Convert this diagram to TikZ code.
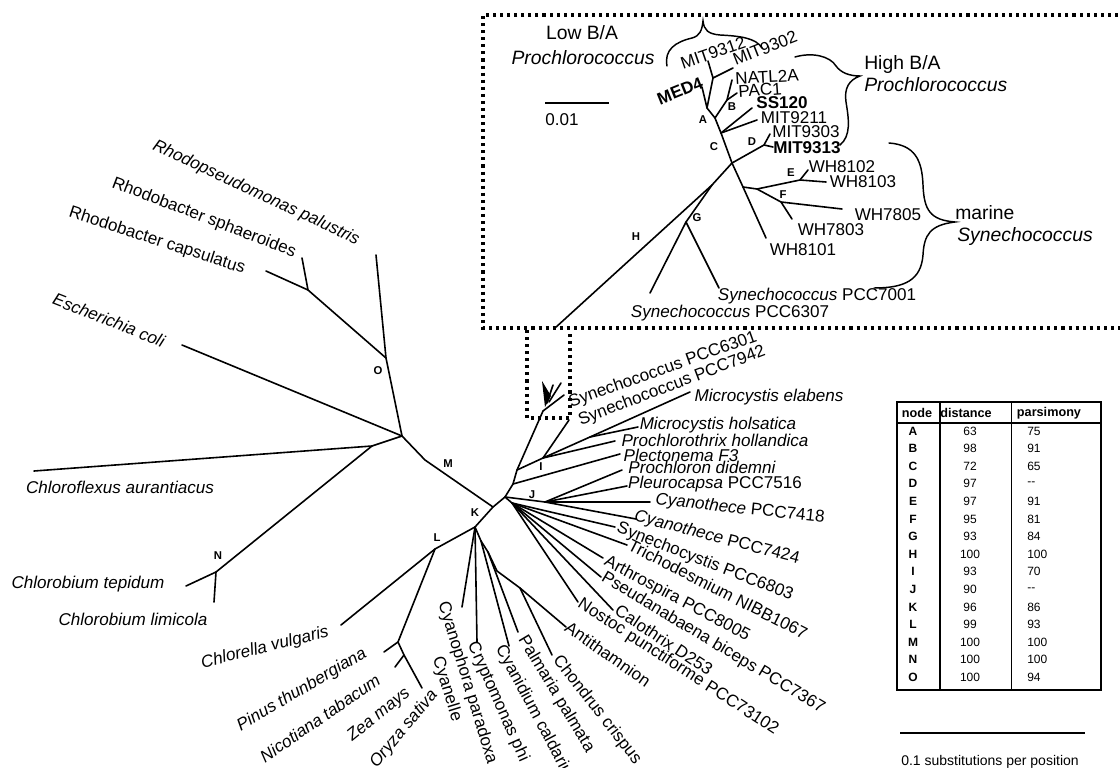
\documentclass[tikz,border=0pt]{standalone}
\usepackage{fontspec}
\setmainfont{Liberation Sans}

\tikzstyle{treefig}=[x=0.75pt,y=-0.75pt]
\tikzstyle{brline}=[line width=1.2pt,line cap=round,line join=round]
\tikzstyle{taxon}=[inner sep=0pt,font=\fontsize{12.8}{16}\selectfont]
\tikzstyle{taxonit}=[inner sep=0pt,font=\fontsize{12.8}{16}\selectfont\itshape]
\tikzstyle{taxonbf}=[inner sep=0pt,font=\fontsize{12.8}{16}\selectfont\bfseries]
\tikzstyle{grouplabel}=[inner sep=0pt,font=\fontsize{14.5}{17}\selectfont]
\tikzstyle{nodeletter}=[inner sep=0pt,font=\fontsize{8.5}{9}\selectfont\bfseries]
\tikzstyle{dotframe}=[line width=2.3pt,dash pattern=on 2.3pt off 3pt]
\tikzstyle{bracket}=[line width=1.1pt,line cap=round]
\tikzstyle{tabtext}=[inner sep=0pt,font=\fontsize{9}{10}\selectfont]
\tikzstyle{tabhead}=[inner sep=0pt,font=\fontsize{9.5}{10}\selectfont\bfseries]

\begin{document}
\begin{tikzpicture}[style=treefig]
\useasboundingbox (0,0) rectangle (1120,767);

% outgroups
\coordinate (root) at (402,436);
\coordinate (O) at (386,358);
\coordinate (rhps) at (376,255);
\coordinate (rbac) at (308,290);
\coordinate (rbsp) at (302,258);
\coordinate (rbca) at (266,271);
\coordinate (ecol) at (182,345);
\coordinate (cfj) at (372,446);
\coordinate (cfla) at (34,471);
\coordinate (N) at (216,572);
\coordinate (cbte) at (186,586);
\coordinate (cbli) at (214,602);
\coordinate (Mb) at (425,460);
\coordinate (Mj) at (493,507);
\coordinate (P) at (505,497);

\draw[brline] (rhps) -- (O) -- (root);
\draw[brline] (rbsp) -- (rbac) -- (O);
\draw[brline] (rbca) -- (rbac);
\draw[brline] (ecol) -- (root);
\draw[brline] (cfla) -- (cfj) -- (root);
\draw[brline] (cfj) -- (N) -- (cbte);
\draw[brline] (N) -- (cbli);
\draw[brline] (root) -- (Mb) -- (Mj) -- (P);

% plastids
\coordinate (K) at (475,527);
\coordinate (L) at (435,549);
\coordinate (chlo) at (341,625);
\coordinate (pl) at (398,642);
\coordinate (pinu) at (384,652);
\coordinate (an) at (404,655);
\coordinate (nico) at (395,667);
\coordinate (oryz) at (422,688);
\coordinate (cyan) at (462,607);
\coordinate (cryp) at (477,642);
\coordinate (K2) at (481,541);
\coordinate (cyad) at (509,646);
\coordinate (K3) at (488,552);
\coordinate (palm) at (518,632);
\coordinate (K4) at (497,571);
\coordinate (K5) at (520,588);
\coordinate (anti) at (566,627);
\coordinate (chon) at (552,655);

\draw[brline] (Mj) -- (K) -- (L) -- (chlo);
\draw[brline] (L) -- (pl) -- (pinu);
\draw[brline] (pl) -- (an) -- (nico);
\draw[brline] (an) -- (oryz);
\draw[brline] (K) -- (cyan);
\draw[brline] (K) -- (cryp);
\draw[brline] (K) -- (K2) -- (cyad);
\draw[brline] (K2) -- (K3) -- (palm);
\draw[brline] (K3) -- (K4) -- (K5) -- (anti);
\draw[brline] (K5) -- (chon);

% cyanobacteria
\coordinate (fan) at (543,411);
\coordinate (Ib) at (513,484);
\coordinate (T1) at (517,470);
\coordinate (plec) at (620,454);
\coordinate (R) at (543,458);
\coordinate (pthx) at (615,441);
\coordinate (s6301) at (569,420);
\coordinate (mcj) at (590,437);
\coordinate (mcel) at (690,392);
\coordinate (mcho) at (638,427);
\coordinate (J) at (545,502);
\coordinate (pdid) at (622,470);
\coordinate (pleu) at (627,486);
\coordinate (c7418) at (650,502);
\coordinate (c7424) at (636,519);
\coordinate (P2) at (512,503);
\coordinate (scys) at (615,527);
\coordinate (tric) at (627,545);
\coordinate (arth) at (603,558);
\coordinate (pseu) at (601,577);
\coordinate (calo) at (613,610);
\coordinate (nost) at (578,602);

\draw[brline] (P) -- (Ib) -- (T1) -- (fan);
\draw[brline] (Ib) -- (plec);
\draw[brline] (T1) -- (R) -- (mcj) -- (mcel);
\draw[brline] (R) -- (pthx);
\draw[brline] (R) -- (s6301);
\draw[brline] (mcj) -- (mcho);
\draw[brline] (P) -- (J) -- (pdid);
\draw[brline] (J) -- (pleu);
\draw[brline] (J) -- (c7418);
\draw[brline] (J) -- (c7424);
\draw[brline] (P) -- (P2);
\foreach \tip in {scys,tric,arth,pseu,calo,nost}
  \draw[brline] (P2) -- (\tip);

% miniature of the inset
\fill (542,381) -- (551,396) -- (545,407) -- cycle;
\draw[brline] (553,385) -- (547,403);
\draw[brline] (561,383) -- (549,402);
\draw[brline] (564,395) -- (fan);

% inset tree
\coordinate (iA) at (707,108);
\coordinate (ilow) at (713,78);
\coordinate (m9312) at (708,61);
\coordinate (m9302) at (733,68);
\coordinate (med4) at (702,87);
\coordinate (iB0) at (715,118);
\coordinate (iB) at (727,100);
\coordinate (natl) at (732,80);
\coordinate (pac1) at (737,93);
\coordinate (iS) at (721,133);
\coordinate (ss120) at (752,108);
\coordinate (m9211) at (757,120);
\coordinate (itop) at (732,163);
\coordinate (iD) at (764,145);
\coordinate (m9303) at (770,134);
\coordinate (m9313) at (773,147);
\coordinate (iM) at (743,187);
\coordinate (iEF) at (757,189);
\coordinate (iE) at (800,180);
\coordinate (wh8102) at (808,170);
\coordinate (wh8103) at (826,182);
\coordinate (iF) at (781,202);
\coordinate (wh7805) at (842,209);
\coordinate (wh7803) at (792,219);
\coordinate (wh8101) at (766,238);
\coordinate (iG0) at (712,185);
\coordinate (iG) at (686,222);
\coordinate (s6307) at (650,293);
\coordinate (s7001) at (719,288);
\coordinate (iH) at (555,328);

\draw[brline] (m9312) -- (ilow) -- (m9302);
\draw[brline] (ilow) -- (iA) -- (med4);
\draw[brline] (iA) -- (iB0) -- (iS) -- (itop);
\draw[brline] (iB0) -- (iB) -- (natl);
\draw[brline] (iB) -- (pac1);
\draw[brline] (iS) -- (ss120);
\draw[brline] (iS) -- (m9211);
\draw[brline] (itop) -- (iD) -- (m9303);
\draw[brline] (iD) -- (m9313);
\draw[brline] (itop) -- (iM) -- (wh8101);
\draw[brline] (iM) -- (iEF) -- (iE) -- (wh8102);
\draw[brline] (iE) -- (wh8103);
\draw[brline] (iEF) -- (iF) -- (wh7805);
\draw[brline] (iF) -- (wh7803);
\draw[brline] (itop) -- (iG0) -- (iH);
\draw[brline] (iG0) -- (iG) -- (s6307);
\draw[brline] (iG) -- (s7001);

% frames
\draw[dotframe] (1125,15) -- (483,15) -- (483,328) -- (1125,328);
\draw[dotframe] (527,330) -- (527,418) -- (570,418) -- (570,330);

% braces
\draw[bracket] (667,66) .. controls (664,50) and (675,42) .. (692,38)
  .. controls (700,36) and (702,30) .. (703,21)
  .. controls (704,30) and (708,34) .. (720,35)
  .. controls (740,36) and (756,38) .. (762,48);
\draw[bracket] (795,57) .. controls (812,52) and (830,56) .. (836,66)
  .. controls (841,73) and (850,76) .. (860,76)
  .. controls (849,80) and (844,88) .. (846,102)
  .. controls (849,120) and (851,136) .. (840,145);
\draw[bracket] (889,143) .. controls (915,145) and (922,160) .. (923,185)
  .. controls (924,210) and (930,220) .. (955,222)
  .. controls (930,225) and (924,235) .. (923,255)
  .. controls (921,280) and (905,288) .. (874,288);

% group labels
\node[grouplabel] (lowba) at (582,33) {Low B/A};
\node[grouplabel,font=\fontsize{14.5}{17}\selectfont\itshape] (lowpro) at (583,58) {Prochlorococcus};
\node[grouplabel,anchor=west] (highba) at (864,65) {High B/A};
\node[grouplabel,anchor=west,font=\fontsize{14.5}{17}\selectfont\itshape] (highpro) at (864,85) {Prochlorococcus};
\node[grouplabel,anchor=west] (marine) at (955,213) {marine};
\node[grouplabel,anchor=west,font=\fontsize{14.5}{17}\selectfont\itshape] (marsyn) at (957,236) {Synechococcus};

% inset scale
\coordinate (sa) at (545,103);
\coordinate (sb) at (609,103);
\draw[line width=1pt] (sa) -- (sb);
\node[taxon] (sval) at (562,120) {0.01};

% inset labels
\node[taxonbf,rotate=22] (lmed4) at (680,91) {MED4};
\node[taxon,rotate=19] (lm9312) at (713,53) {MIT9312};
\node[taxon,rotate=21.5] (lm9302) at (765,48) {MIT9302};
\node[taxon,rotate=3] (lnatl) at (767,77) {NATL2A};
\node[taxon,rotate=4] (lpac1) at (760,90) {PAC1};
\node[taxonbf] (lss120) at (782,103) {SS120};
\node[taxon] (lm9211) at (794,118) {MIT9211};
\node[taxon] (lm9303) at (806,132) {MIT9303};
\node[taxonbf] (lm9313) at (807,148) {MIT9313};
\node[taxon] (lwh8102) at (842,167) {WH8102};
\node[taxon] (lwh8103) at (863,182) {WH8103};
\node[taxon] (lwh7805) at (888,215) {WH7805};
\node[taxon] (lwh7803) at (831,230) {WH7803};
\node[taxon] (lwh8101) at (803,250) {WH8101};
\node[taxon] (ls7001) at (817,296) {\textit{Synechococcus} PCC7001};
\node[taxon] (ls6307) at (730,313) {\textit{Synechococcus} PCC6307};

% main labels
\node[taxonit,rotate=-25] (lrhps) at (256,193) {Rhodopseudomonas palustris};
\node[taxon,rotate=-21] (lrbsp) at (204,218) {Rhodobacter sphaeroides};
\node[taxon,rotate=-18] (lrbca) at (157,241) {Rhodobacter capsulatus};
\node[taxonit,rotate=-21.5] (lecol) at (109,320) {Escherichia coli};
\node[taxonit] (lcfla) at (120,487) {Chloroflexus aurantiacus};
\node[taxonit] (lcbte) at (88,584) {Chlorobium tepidum};
\node[taxonit] (lcbli) at (133,619) {Chlorobium limicola};
\node[taxonit,rotate=14] (lchlo) at (265,648) {Chlorella vulgaris};
\node[taxonit,rotate=30.5] (lpinu) at (302,690) {Pinus thunbergiana};
\node[taxonit,rotate=34.5] (lnico) at (320,718) {Nicotiana tabacum};
\node[taxonit,rotate=39] (lzea) at (379,715) {Zea mays};
\node[taxonit,rotate=50] (loryz) at (404,729) {Oryza sativa};
\node[taxon,rotate=-73,align=center] (lcyan) at (457,686) {Cyanophora paradoxa\\Cyanelle};
\node[taxon,rotate=-66] (lcryp) at (498,702) {Cryptomonas phi};
\node[taxon,rotate=-62] (lcyad) at (537,717) {Cyanidium caldarium};
\node[taxon,rotate=-59] (lpalm) at (556,694) {Palmaria palmata};
\node[taxon,rotate=-52] (lchon) at (597,710) {Chondrus crispus};
\node[taxon,rotate=-35] (lanti) at (608,654) {Antithamnion};
\node[taxon,rotate=-33] (lnost) at (678,667) {Nostoc punctiforme PCC73102};
\node[taxon,rotate=-33.5] (lcalo) at (664,640) {Calothrix D253};
\node[taxon,rotate=-31] (lpseu) at (713,643) {Pseudanabaena biceps PCC7367};
\node[taxon,rotate=-28] (larth) at (677,599) {Arthrospira PCC8005};
\node[taxon,rotate=-27] (ltric) at (718,589) {Trichodesmium NIBB1067};
\node[taxon,rotate=-21.4] (lscys) at (705,562) {Synechocystis PCC6803};
\node[taxon,rotate=-14.6] (lc7424) at (717,538) {\textit{Cyanothece} PCC7424};
\node[taxon,rotate=-6] (lc7418) at (740,509) {\textit{Cyanothece} PCC7418};
\node[taxon] (lpleu) at (715,484) {\textit{Pleurocapsa} PCC7516};
\node[taxonit] (lpdid) at (702,467) {Prochloron didemni};
\node[taxonit] (lplec) at (681,455) {Plectonema F3};
\node[taxonit] (lpthx) at (715,440) {Prochlorothrix hollandica};
\node[taxonit] (lmcho) at (718,425) {Microcystis holsatica};
\node[taxonit] (lmcel) at (769,397) {Microcystis elabens};
\node[taxon,rotate=20.7] (l7942) at (672,386) {Synechococcus PCC7942};
\node[taxon,rotate=19.6] (l6301) at (663,370) {Synechococcus PCC6301};

% node letters
\foreach \ltr/\x/\y in {A/703/120,B/732/107,C/714/147,D/752/142,E/791/173,F/783/195,G/697/218,H/636/237,I/541/467,J/532/495,K/475/513,L/437/538,M/448/464,N/218/556,O/378/371}
  \node[nodeletter] (n\ltr) at (\x,\y) {\ltr};

% bootstrap table
\draw[line width=1pt] (897,402) rectangle (1101,690);
\draw[line width=1pt] (897,423) -- (1101,423);
\draw[line width=1pt] (940,402) -- (940,690);
\draw[line width=0.5pt] (1011,402) -- (1011,690);
\node[tabhead] (hnode) at (917,413) {node};
\node[tabhead] (hdist) at (966,413) {distance};
\node[tabhead] (hpars) at (1049,413) {parsimony};
\foreach \nd/\dv/\pv [count=\i from 0] in {A/63/75,B/98/91,C/72/65,D/97/-{}-,E/97/91,F/95/81,G/93/84,H/100/100,I/93/70,J/90/-{}-,K/96/86,L/99/93,M/100/100,N/100/100,O/100/94}{
  \node[tabtext,font=\fontsize{9}{10}\selectfont\bfseries] (row\nd) at (913,{431+17.6*\i}) {\nd};
  \node[tabtext] (dist\nd) at (970,{431+17.6*\i}) {\dv};
  \node[tabtext,anchor=west] (pars\nd) at (1027,{431+17.6*\i}) {\pv};
}

% scale
\coordinate (ba) at (900,733);
\coordinate (bb) at (1085,733);
\draw[line width=1.1pt] (ba) -- (bb);
\node[inner sep=0pt,font=\fontsize{10.5}{12}\selectfont] (bval) at (990,762) {0.1 substitutions per position};
\end{tikzpicture}
\end{document}
